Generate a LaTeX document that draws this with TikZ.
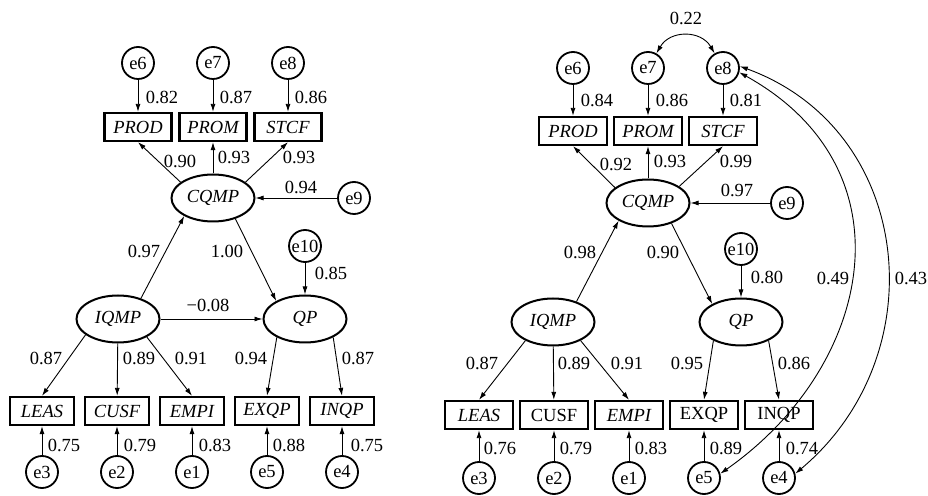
\documentclass[tikz,border=0pt]{standalone}
\usepackage{fontspec}
\setmainfont{Liberation Serif}
\usetikzlibrary{shapes.geometric,arrows.meta}
\begin{document}
\begin{tikzpicture}[x=1pt,y=1pt,
  font=\fontsize{18.5}{20}\selectfont,
  err/.style={circle,draw,line width=1.8pt,minimum size=32pt,inner sep=0pt},
  obs/.style={rectangle,draw,line width=2.3pt,minimum width=67pt,minimum height=28pt,inner sep=0pt,font=\fontsize{18.5}{20}\selectfont\itshape},
  obsw/.style={obs,minimum width=64pt},
  obsr/.style={obs,minimum width=68pt},
  obsu/.style={obsr,font=\fontsize{18.5}{20}\selectfont\upshape},
  lat/.style={ellipse,draw,line width=2pt,minimum width=83pt,minimum height=47pt,inner sep=0pt,font=\fontsize{18.5}{20}\selectfont\itshape},
  lbl/.style={inner sep=0pt},
  arr/.style={-{Latex[length=8pt,width=5pt]},line width=0.9pt},
  darr/.style={{Latex[length=8pt,width=5pt]}-{Latex[length=8pt,width=5pt]},line width=0.9pt},
]
\useasboundingbox (0,0) rectangle (928,495);
\fill[white] (0,0) rectangle (928,495);

% ---------------- LEFT MODEL ----------------
\node[err] (Le6) at (138,432) {e6};
\node[err] (Le7) at (213,432) {e7};
\node[err] (Le8) at (288,432) {e8};
\node[obs] (LPROD) at (138,368) {PROD};
\node[obs] (LPROM) at (213,368) {PROM};
\node[obs] (LSTCF) at (288,368) {STCF};
\node[lat] (LCQMP) at (213,297) {CQMP};
\node[err] (Le9) at (354,297) {e9};
\node[err] (Le10) at (305,249) {e10};
\node[lat] (LIQMP) at (118,176) {IQMP};
\node[lat] (LQP) at (305,176) {QP};
\node[obsw] (LLEAS) at (42,84) {LEAS};
\node[obsw] (LCUSF) at (117,84) {CUSF};
\node[obsw] (LEMPI) at (192,84) {EMPI};
\node[obsw] (LEXQP) at (267,84) {EXQP};
\node[obsw] (LINQP) at (342,84) {INQP};
\node[err] (Le3) at (42,23) {e3};
\node[err] (Le2) at (117,23) {e2};
\node[err] (Le1) at (192,23) {e1};
\node[err] (Le5) at (267,23) {e5};
\node[err] (Le4) at (342,23) {e4};

\draw[arr] (Le6) -- (LPROD);
\draw[arr] (Le7) -- (LPROM);
\draw[arr] (Le8) -- (LSTCF);
\draw[arr] (LCQMP.154) -- (LPROD.south);
\draw[arr] (LCQMP) -- (LPROM);
\draw[arr] (LCQMP.26) -- (LSTCF.south);
\draw[arr] (Le9) -- (LCQMP);
\draw[arr] (LIQMP.42) -- (LCQMP.212);
\draw[arr] (LCQMP.-43) -- (LQP.148);
\draw[arr] (Le10) -- (LQP);
\draw[arr] (LIQMP) -- (LQP);
\draw[arr] (LIQMP.206) -- (LLEAS.north);
\draw[arr] (LIQMP) -- (LCUSF);
\draw[arr] (LIQMP.-32) -- (LEMPI.north);
\draw[arr] (LQP.213) -- (LEXQP.north);
\draw[arr] (LQP.-33) -- (LINQP.north);
\draw[arr] (Le3) -- (LLEAS);
\draw[arr] (Le2) -- (LCUSF);
\draw[arr] (Le1) -- (LEMPI);
\draw[arr] (Le5) -- (LEXQP);
\draw[arr] (Le4) -- (LINQP);

\node[lbl] (La1) at (162,398) {0.82};
\node[lbl] (La2) at (236,398) {0.87};
\node[lbl] (La3) at (311,398) {0.86};
\node[lbl] (La4) at (180,334) {0.90};
\node[lbl] (La5) at (234,338) {0.93};
\node[lbl] (La6) at (299,338) {0.93};
\node[lbl] (La7) at (301,308) {0.94};
\node[lbl] (La8) at (144,244) {0.97};
\node[lbl] (La9) at (227,244) {1.00};
\node[lbl] (La10) at (331,222) {0.85};
\node[lbl] (La11) at (208,190) {−0.08};
\node[lbl] (La12) at (46,137) {0.87};
\node[lbl] (La13) at (139,137) {0.89};
\node[lbl] (La14) at (191,137) {0.91};
\node[lbl] (La15) at (251,137) {0.94};
\node[lbl] (La16) at (358,137) {0.87};
\node[lbl] (La17) at (64,50) {0.75};
\node[lbl] (La18) at (140,50) {0.79};
\node[lbl] (La19) at (215,50) {0.83};
\node[lbl] (La20) at (289,50) {0.88};
\node[lbl] (La21) at (367,50) {0.75};

% ---------------- RIGHT MODEL ----------------
\node[err] (Re6) at (573,427) {e6};
\node[err] (Re7) at (648,427) {e7};
\node[err] (Re8) at (723,427) {e8};
\node[obsr] (RPROD) at (573,364) {PROD};
\node[obsr] (RPROM) at (648,364) {PROM};
\node[obsr] (RSTCF) at (723,364) {STCF};
\node[lat] (RCQMP) at (648,292) {CQMP};
\node[err] (Re9) at (787,292) {e9};
\node[err] (Re10) at (741,246) {e10};
\node[lat] (RIQMP) at (553,173) {IQMP};
\node[lat] (RQP) at (741,173) {QP};
\node[obsr] (RLEAS) at (479,80) {LEAS};
\node[obsu] (RCUSF) at (554,80) {CUSF};
\node[obsr] (REMPI) at (629,80) {EMPI};
\node[obsu] (REXQP) at (704,80) {EXQP};
\node[obsu] (RINQP) at (779,80) {INQP};
\node[err] (Re3) at (479,17) {e3};
\node[err] (Re2) at (554,17) {e2};
\node[err] (Re1) at (629,17) {e1};
\node[err] (Re5) at (704,17) {e5};
\node[err] (Re4) at (779,17) {e4};

\draw[arr] (Re6) -- (RPROD);
\draw[arr] (Re7) -- (RPROM);
\draw[arr] (Re8) -- (RSTCF);
\draw[arr] (RCQMP.155) -- (RPROD.south);
\draw[arr] (RCQMP) -- (RPROM);
\draw[arr] (RCQMP.28) -- (RSTCF.south);
\draw[arr] (Re9) -- (RCQMP);
\draw[arr] (RIQMP.41) -- (RCQMP.211);
\draw[arr] (RCQMP.-41) -- (RQP.148);
\draw[arr] (Re10) -- (RQP);
\draw[arr] (RIQMP.214) -- (RLEAS.north);
\draw[arr] (RIQMP) -- (RCUSF);
\draw[arr] (RIQMP.-34) -- (REMPI.north);
\draw[arr] (RQP.214) -- (REXQP.north);
\draw[arr] (RQP.-34) -- (RINQP.north);
\draw[arr] (Re3) -- (RLEAS);
\draw[arr] (Re2) -- (RCUSF);
\draw[arr] (Re1) -- (REMPI);
\draw[arr] (Re5) -- (REXQP);
\draw[arr] (Re4) -- (RINQP);

\draw[darr] (Re7.60) to[bend left=60,looseness=1.2] (Re8.120);
\draw[darr] (Re8.-15) .. controls +(-29:200) and +(35:186) .. (Re5.15);
\draw[darr] (Re8.6) .. controls +(-20:185) and +(40:185) .. (Re4.15);

\node[lbl] (Ra0) at (686,477) {0.22};
\node[lbl] (Ra1) at (597,395) {0.84};
\node[lbl] (Ra2) at (672,395) {0.86};
\node[lbl] (Ra3) at (746,395) {0.81};
\node[lbl] (Ra4) at (616,331) {0.92};
\node[lbl] (Ra5) at (670,334) {0.93};
\node[lbl] (Ra6) at (736,334) {0.99};
\node[lbl] (Ra7) at (737,305) {0.97};
\node[lbl] (Ra8) at (580,243) {0.98};
\node[lbl] (Ra9) at (663,243) {0.90};
\node[lbl] (Ra10) at (767,218) {0.80};
\node[lbl] (Ra11) at (833,217) {0.49};
\node[lbl] (Ra12) at (911,217) {0.43};
\node[lbl] (Ra13) at (482,132) {0.87};
\node[lbl] (Ra14) at (574,132) {0.89};
\node[lbl] (Ra15) at (627,132) {0.91};
\node[lbl] (Ra16) at (687,132) {0.95};
\node[lbl] (Ra17) at (794,132) {0.86};
\node[lbl] (Ra18) at (500,47) {0.76};
\node[lbl] (Ra19) at (576,47) {0.79};
\node[lbl] (Ra20) at (651,47) {0.83};
\node[lbl] (Ra21) at (726,47) {0.89};
\node[lbl] (Ra22) at (802,47) {0.74};
\end{tikzpicture}
\end{document}
